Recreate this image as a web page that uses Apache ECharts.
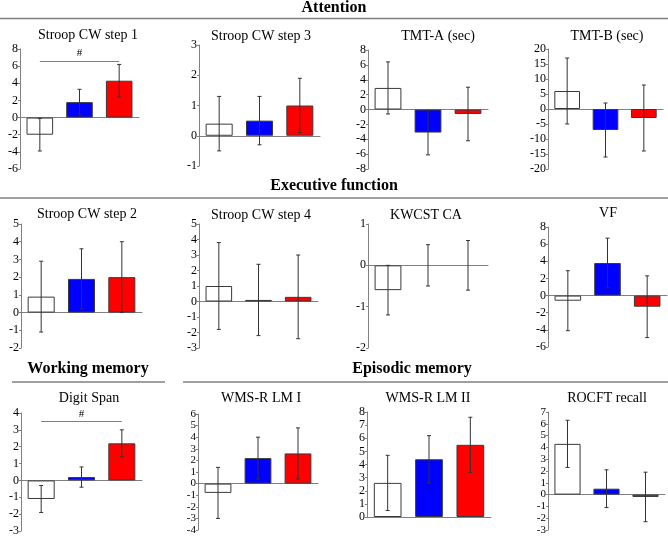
<!DOCTYPE html>
<html>
<head>
<meta charset="utf-8">
<script src="https://cdn.jsdelivr.net/npm/echarts@6/dist/echarts.min.js"></script>
<style>html,body{margin:0;padding:0;background:#fff;}#chart{width:668px;height:539px;}</style>
</head>
<body>
<div id="chart"></div>
<script>
// ---------- DATA ----------
const categories = ['Group 1', 'Group 2', 'Group 3'];
const barColors = ['#ffffff', '#0000ff', '#ff0000'];

const panelTitles = ['Stroop CW step 1', 'Stroop CW step 3', 'TMT-A (sec)', 'TMT-B (sec)',
  'Stroop CW step 2', 'Stroop CW step 4', 'KWCST CA', 'VF',
  'Digit Span', 'WMS-R LM I', 'WMS-R LM II', 'ROCFT recall'];

const sectionTitles = ['Attention', 'Executive function', 'Working memory', 'Episodic memory'];

const stroop1Mean = [-2.0, 1.8, 4.3];  const stroop1Err = [1.9, 1.5, 1.9];
const stroop3Mean = [0.4, 0.5, 1.0];   const stroop3Err = [0.9, 0.8, 0.9];
const tmtAMean = [2.9, -3.1, -0.6];    const tmtAErr = [3.5, 3.0, 3.6];
const tmtBMean = [6.0, -7.0, -3.0];    const tmtBErr = [11.0, 9.0, 11.0];
const stroop2Mean = [0.9, 1.9, 2.0];   const stroop2Err = [2.0, 1.7, 2.0];
const stroop4Mean = [1.0, 0.1, 0.3];   const stroop4Err = [2.8, 2.3, 2.7];
const kwcstMean = [-0.6, 0, 0];        const kwcstErr = [0.6, 0.5, 0.6];
const vfMean = [-0.6, 3.8, -1.3];      const vfErr = [3.5, 2.9, 3.6];
const digitMean = [-1.1, 0.2, 2.2];    const digitErr = [0.8, 0.6, 0.8];
const lm1Mean = [-0.8, 2.2, 2.6];      const lm1Err = [2.2, 1.8, 2.2];
const lm2Mean = [2.6, 4.4, 5.5];       const lm2Err = [2.1, 1.8, 2.1];
const rocftMean = [4.3, 0.5, -0.2];    const rocftErr = [2.0, 1.6, 2.1];

// y-axis ticks [min, max, interval]
const yTicks = [[-6, 8, 2], [-1, 3, 1], [-8, 8, 2], [-20, 20, 5],
  [-2, 5, 1], [-3, 5, 1], [-2, 1, 1], [-6, 8, 2],
  [-3, 4, 1], [-4, 6, 1], [0, 8, 1], [-3, 7, 1]];

// significance markers: [panel index, level]
const sigMarks = [[0, 6.6], [8, 3.5]];

const allMeans = [stroop1Mean, stroop3Mean, tmtAMean, tmtBMean, stroop2Mean, stroop4Mean,
  kwcstMean, vfMean, digitMean, lm1Mean, lm2Mean, rocftMean];
const allErrs = [stroop1Err, stroop3Err, tmtAErr, tmtBErr, stroop2Err, stroop4Err,
  kwcstErr, vfErr, digitErr, lm1Err, lm2Err, rocftErr];

// ---------- LAYOUT ----------
const gridBoxes = [
  [20, 49, 119, 120], [199, 45, 121, 121], [368, 50, 120, 119], [548, 49, 115, 120],
  [21, 224, 121, 124], [199, 224, 119, 124], [368, 224, 120, 124], [548, 227, 119, 120],
  [21, 413, 121, 118], [198, 414, 120, 116], [367, 412, 124, 105], [548, 412, 117, 118]
];
const titlePos = [[88, 35], [261, 36], [438, 36], [607, 36],
  [87, 214], [261, 215], [426, 215], [608, 213],
  [89, 398], [261, 398], [428, 398], [607, 398]];

const serif = '"Liberation Serif", "Times New Roman", serif';

const grids = [], xAxes = [], yAxes = [], series = [], graphics = [];

gridBoxes.forEach((b, i) => {
  grids.push({ left: b[0], top: b[1], width: b[2], height: b[3] });
  xAxes.push({
    type: 'category', gridIndex: i, data: categories,
    axisLabel: { show: false }, axisTick: { show: false },
    axisLine: { onZero: true, lineStyle: { color: '#808080', width: 1 } }
  });
  const tickGap = b[3] / ((yTicks[i][1] - yTicks[i][0]) / yTicks[i][2]);
  yAxes.push({
    type: 'value', gridIndex: i, min: yTicks[i][0], max: yTicks[i][1], interval: yTicks[i][2],
    splitLine: { show: false },
    axisLine: { show: true, onZero: false, lineStyle: { color: '#808080', width: 1 } },
    axisTick: { show: true, length: 2, lineStyle: { color: '#808080' } },
    axisLabel: { fontFamily: serif, fontSize: tickGap < 12.5 ? 11 : 12, color: '#000', margin: 2,
      showMinLabel: true, showMaxLabel: true, hideOverlap: false }
  });
  const means = allMeans[i], errs = allErrs[i];
  const barSeries = {
    type: 'bar', xAxisIndex: i, yAxisIndex: i, barWidth: '67%',
    data: means.map((v, k) => ({ value: v,
      itemStyle: { color: barColors[k], borderWidth: v === 0 ? 0 : 1 } })),
    itemStyle: { borderColor: '#3a3a3a', borderWidth: 1 },
    silent: true
  };
  const sig = sigMarks.find(s => s[0] === i);
  if (sig) {
    barSeries.markLine = {
      silent: true, symbol: ['none', 'none'],
      lineStyle: { color: '#808080', width: 1, type: 'solid' },
      label: { show: true, formatter: '#', position: 'insideMiddleTop', distance: 2,
        fontFamily: serif, fontSize: 11, color: '#000' },
      data: [[{ coord: [0, sig[1]] }, { coord: [2, sig[1]] }]]
    };
  }
  series.push(barSeries);
  series.push({
    type: 'custom', xAxisIndex: i, yAxisIndex: i, z: 10, silent: true,
    data: means.map((m, k) => [k, m - errs[k], m + errs[k]]),
    encode: { x: 0, y: [1, 2] },
    renderItem: function (params, api) {
      const x = api.value(0);
      const lo = api.coord([x, api.value(1)]);
      const hi = api.coord([x, api.value(2)]);
      const hw = 2;
      const st = { stroke: '#333', lineWidth: 1 };
      return {
        type: 'group', children: [
          { type: 'line', shape: { x1: lo[0], y1: lo[1], x2: hi[0], y2: hi[1] }, style: st },
          { type: 'line', shape: { x1: hi[0] - hw, y1: hi[1], x2: hi[0] + hw, y2: hi[1] }, style: st },
          { type: 'line', shape: { x1: lo[0] - hw, y1: lo[1], x2: lo[0] + hw, y2: lo[1] }, style: st }
        ]
      };
    }
  });
  graphics.push({
    type: 'text', x: titlePos[i][0], y: titlePos[i][1],
    style: { text: panelTitles[i], font: '14px ' + serif, fill: '#000',
      textAlign: 'center', textVerticalAlign: 'middle' }
  });
});

// section headers
const headerPos = [[334, 8], [334, 186], [88, 369], [412, 369]];
const headerLines = [[0, 668, 18.5], [0, 668, 198], [12, 165, 382], [183, 668, 382]];
headerPos.forEach((p, i) => {
  graphics.push({
    type: 'text', x: p[0], y: p[1],
    style: { text: sectionTitles[i], font: 'bold 16px ' + serif, fill: '#000',
      textAlign: 'center', textVerticalAlign: 'middle' }
  });
});
headerLines.forEach(l => {
  graphics.push({ type: 'line', shape: { x1: l[0], y1: l[2], x2: l[1], y2: l[2] },
    style: { stroke: '#808080', lineWidth: 1.5 } });
});

const chart = echarts.init(document.getElementById('chart'));
chart.setOption({
  animation: false,
  backgroundColor: '#fff',
  grid: grids, xAxis: xAxes, yAxis: yAxes, series: series, graphic: graphics
});
</script>
</body>
</html>
